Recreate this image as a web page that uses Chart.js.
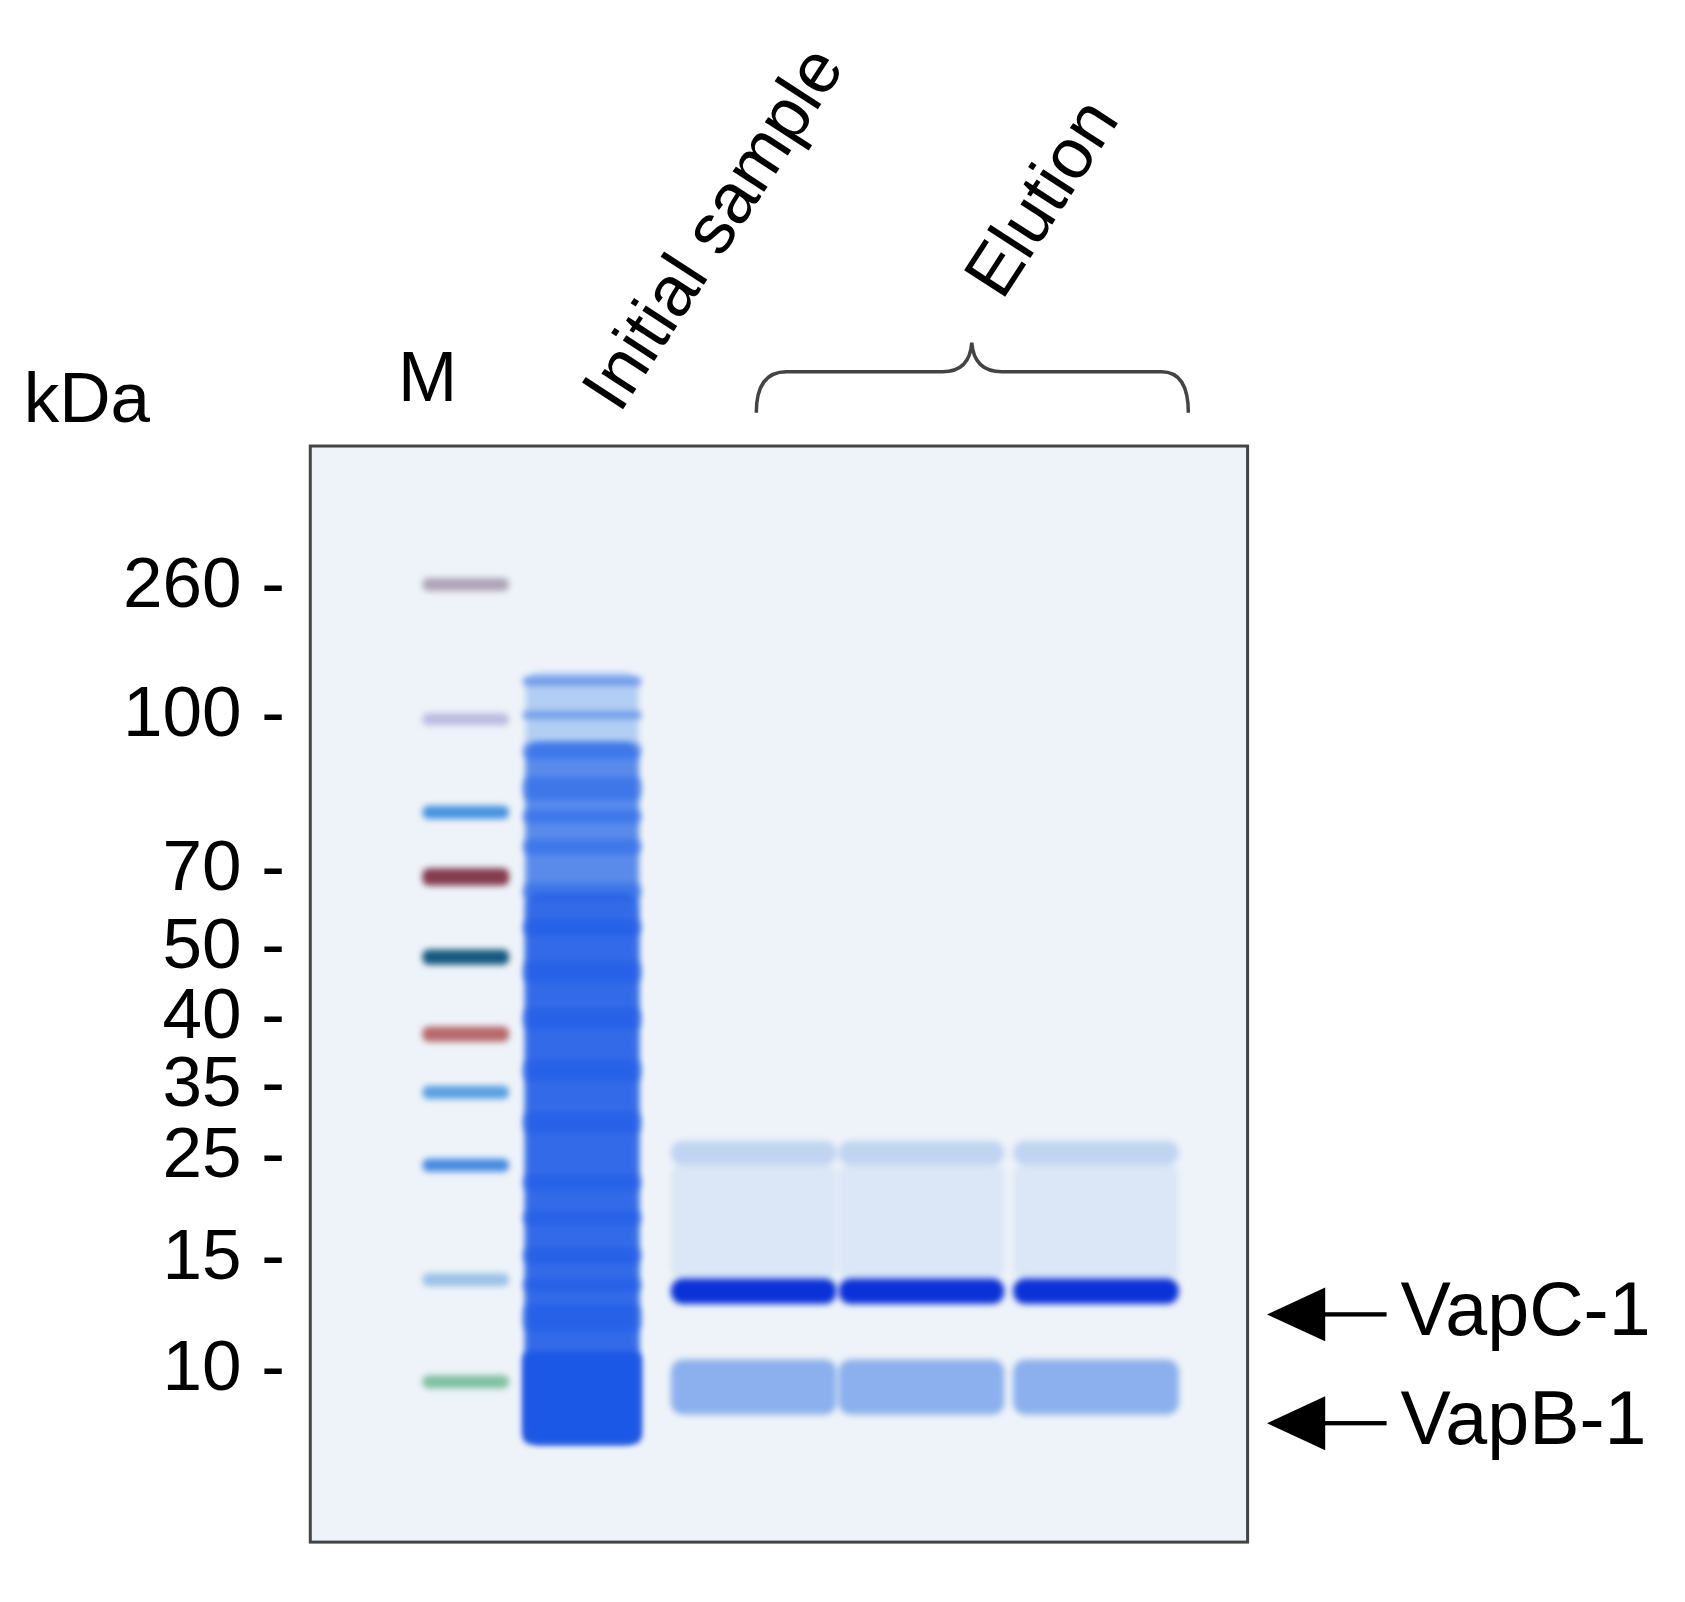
<!DOCTYPE html>
<html>
<head>
<meta charset="utf-8">
<script src="https://cdn.jsdelivr.net/npm/chart.js@4/dist/chart.umd.min.js"></script>
<style>
  html, body { margin: 0; padding: 0; background: #fff; overflow: hidden; }
</style>
</head>
<body>
<canvas id="gel" width="1685" height="1602"></canvas>
<script>
// migration distance (px from top of gel) of each marker, and its size
const markerKda = [260, 100, 70, 50, 40, 35, 25, 15, 10]
const markerPos = [136, 260, 408, 483, 550, 615, 683, 781, 888]

// lane centres along the gel
const laneM = 400
const laneInitial = 520
const laneElution = [697, 870, 1050]

// marker lane bands: [top, bottom] and colours
const markerBands = [[127, 139], [257, 268], [346, 358], [406, 422], [484, 498], [558, 572], [615, 627], [685, 697], [795, 807], [893, 905]]
const markerColors = ["rgba(120,100,130,0.55)", "rgba(140,130,200,0.5)", "rgba(40,130,220,0.85)", "rgba(120,40,60,0.9)",
  "rgba(10,80,120,0.95)", "rgba(170,70,70,0.8)", "rgba(50,140,220,0.8)", "rgba(40,120,220,0.85)",
  "rgba(100,160,220,0.6)", "rgba(100,180,140,0.8)"]

// initial sample lane: smear and bands
const initialSmear = [[218, 958], [285, 958], [430, 958]]
const initialBands = [[222, 230], [255, 262], [285, 300], [318, 340], [350, 362], [378, 392], [420, 436], [455, 470],
  [495, 515], [540, 560], [590, 610], [640, 660], [700, 715], [735, 748], [770, 785], [800, 812], [825, 850], [870, 958]]

// elution lanes: faint 25 kDa band, smear, VapC-1, VapB-1
const elutionBands = [[668, 690], [690, 800], [800, 824], [878, 930]]
const elutionColors = ["rgba(60,120,220,0.25)", "rgba(80,140,230,0.12)", "rgba(10,50,215,1)", "rgba(40,110,225,0.5)"]

const S = 1685 / 1564
const FONT = "Arial, 'Liberation Sans', sans-serif"

const laneDs = (x, bands, colors, width, radius) => ({
  data: bands.map(b => ({ x: x, y: b })),
  backgroundColor: colors,
  barThickness: width,
  borderRadius: radius,
  borderSkipped: false,
  grouped: false
})

const datasets = [
  laneDs(laneM, markerBands, markerColors, 86, 6),
  laneDs(laneInitial, initialSmear, ["rgba(90,150,235,0.4)", "rgba(30,95,230,0.6)", "rgba(20,80,230,0.55)"], 112, 14),
  laneDs(laneInitial, initialBands, initialBands.map((b, i) => i == 17 ? "rgba(10,60,220,0.95)" : "rgba(20,80,225,0.5)"), 118, 8)
]
laneElution.forEach(x => datasets.push(laneDs(x, elutionBands, elutionColors, 165, 12)))

const gelPlugin = {
  id: "gelBg",
  beforeDatasetsDraw(chart) {
    const a = chart.chartArea
    const ctx = chart.ctx
    ctx.save()
    ctx.fillStyle = "#eef3f9"
    ctx.fillRect(a.left, a.top, a.right - a.left, a.bottom - a.top)
    ctx.filter = "blur(3px)"
  },
  afterDatasetsDraw(chart) {
    chart.ctx.restore()
  }
}

const labelsPlugin = {
  id: "gelLabels",
  afterDraw(chart) {
    const ctx = chart.ctx
    const a = chart.chartArea
    ctx.save()
    // gel frame
    ctx.strokeStyle = "#444"
    ctx.lineWidth = 3
    ctx.strokeRect(a.left, a.top, a.right - a.left, a.bottom - a.top)
    ctx.fillStyle = "#000"
    ctx.font = 66 * S + "px " + FONT
    ctx.textBaseline = "alphabetic"
    ctx.textAlign = "left"
    ctx.fillText("kDa", 22 * S, 392 * S)
    ctx.textAlign = "center"
    ctx.fillText("M", 397 * S, 372 * S)
    // rotated lane labels
    const rot = (t, x, y) => {
      ctx.save()
      ctx.translate(x * S, y * S)
      ctx.rotate(-57 * Math.PI / 180)
      ctx.textAlign = "left"
      ctx.fillText(t, 0, 0)
      ctx.restore()
    }
    rot("Initial sample", 575, 385)
    rot("Elution", 930, 280)
    // bracket
    ctx.lineWidth = 3.5
    ctx.beginPath()
    ctx.moveTo(702 * S, 383 * S)
    ctx.quadraticCurveTo(702 * S, 345 * S, 730 * S, 345 * S)
    ctx.lineTo(875 * S, 345 * S)
    ctx.quadraticCurveTo(900 * S, 345 * S, 902 * S, 318 * S)
    ctx.quadraticCurveTo(904 * S, 345 * S, 930 * S, 345 * S)
    ctx.lineTo(1078 * S, 345 * S)
    ctx.quadraticCurveTo(1103 * S, 345 * S, 1103 * S, 383 * S)
    ctx.stroke()
    // arrows
    ctx.font = 70 * S + "px " + FONT
    const arrow = (t, y) => {
      ctx.beginPath()
      ctx.moveTo(1176 * S, y * S)
      ctx.lineTo(1230 * S, (y - 25) * S)
      ctx.lineTo(1230 * S, (y + 25) * S)
      ctx.closePath()
      ctx.fill()
      ctx.fillRect(1225 * S, (y - 2) * S, 62 * S, 4 * S)
      ctx.textAlign = "left"
      ctx.textBaseline = "middle"
      ctx.fillText(t, 1300 * S, y * S)
    }
    arrow("VapC-1", 1220)
    arrow("VapB-1", 1321)
    ctx.restore()
  }
}

new Chart(document.getElementById("gel"), {
  type: "bar",
  data: { datasets: datasets },
  plugins: [gelPlugin, labelsPlugin],
  options: {
    responsive: false,
    animation: false,
    devicePixelRatio: 1,
    layout: { padding: { top: 414 * S, right: 1685 - 1158 * S, bottom: -10, left: 0 } },
    plugins: { legend: { display: false }, tooltip: { enabled: false } },
    scales: {
      x: { type: "linear", min: 288, max: 1158, display: false },
      y: {
        min: 0, max: 1053, reverse: true,
        grid: { display: false },
        border: { display: false },
        afterFit: s => { s.width = 288 * S },
        afterBuildTicks: s => { s.ticks = markerPos.map(v => ({ value: v })) },
        ticks: {
          padding: 16 * S,
          color: "#000",
          font: { size: 66 * S, family: FONT },
          callback: v => markerKda[markerPos.indexOf(v)] + " -"
        }
      }
    }
  }
})
</script>
</body>
</html>
